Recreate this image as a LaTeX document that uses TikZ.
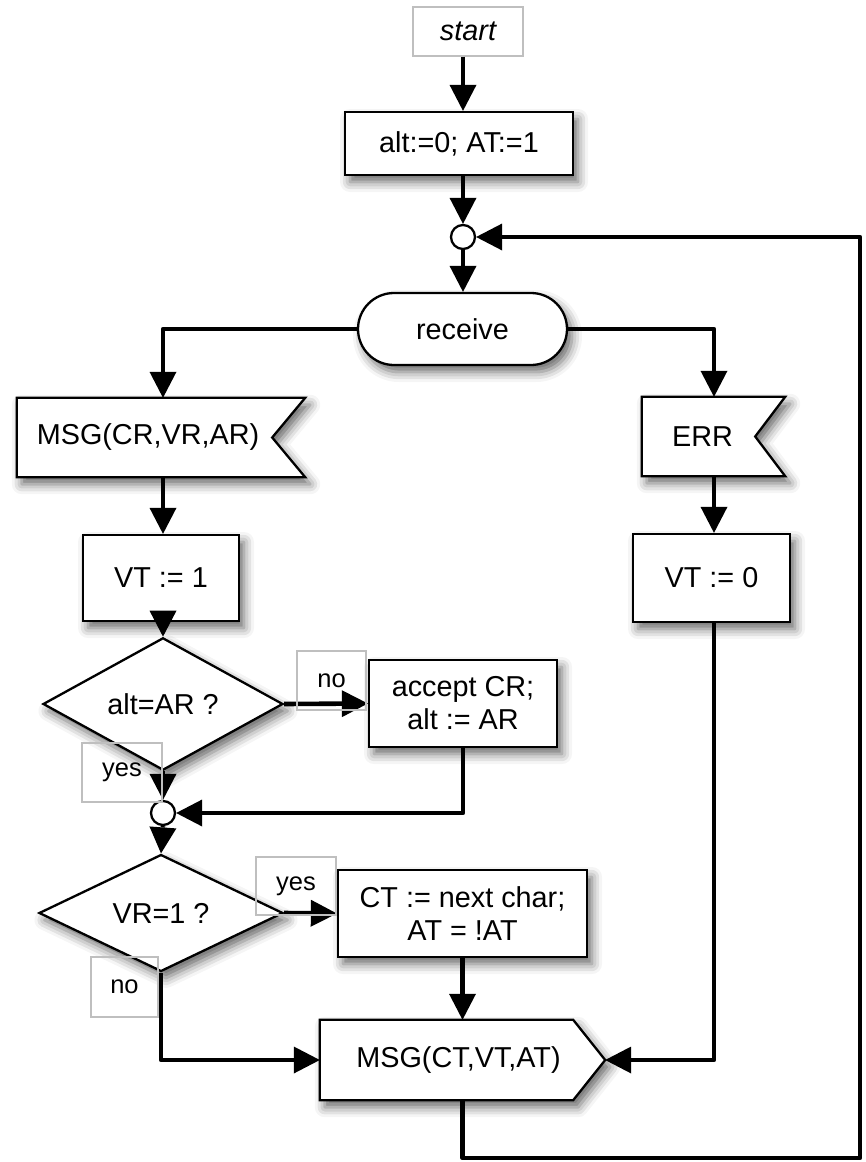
\documentclass[tikz,border=0pt]{standalone}
\usepackage{fontspec}
\setmainfont{Liberation Sans}
\usetikzlibrary{arrows.meta,shapes.geometric,shapes.misc,shadows.blur}

\begin{document}
\begin{tikzpicture}[x=1pt,y=-1pt,
  font=\fontsize{28.8}{33}\selectfont,
  softshadow/.style={blur shadow={shadow xshift=5pt, shadow yshift=-7pt,
      shadow blur radius=10pt, shadow opacity=60}},
  stepbox/.style={draw, line width=2.3pt, fill=white, rectangle, inner sep=0pt,
      align=center, softshadow},
  holder/.style={rectangle, inner sep=0pt},
  outline/.style={draw, line width=2.3pt, fill=white, line join=miter, softshadow},
  decision/.style={draw, line width=2.3pt, fill=white, diamond, inner sep=0pt,
      softshadow},
  junction/.style={draw, line width=2.3pt, fill=white, circle, inner sep=0pt,
      minimum size=24pt},
  tag/.style={draw=black!25, line width=2pt, rectangle, inner sep=0pt,
      font=\fontsize{25.5}{29}\selectfont},
  flow/.style={line width=4.6pt, line join=round,
      -{Triangle[length=26pt,width=27pt,line width=0pt,fill=black]}},
]
\useasboundingbox (0,0) rectangle (865,1162);

% --- nodes ---
\node[tag, font=\fontsize{28.8}{33}\selectfont\itshape, minimum width=110, minimum height=49]
  (start) at (468,31) {start};
\node[stepbox, minimum width=228, minimum height=63] (init) at (459,143.5) {alt:=0; AT:=1};
\node[junction] (j1) at (463,237) {};
\node[rounded rectangle, draw, line width=2.3pt, fill=white, softshadow,
      minimum width=209, minimum height=72, inner sep=0pt] (receive) at (462.5,329) {receive};

% incoming message flags (notch on the right)
\node[holder, minimum width=288, minimum height=79] (msgin) at (161,437.5) {};
\path[outline] (msgin.north west) -- (msgin.north east) -- ([xshift=-33pt]msgin.east)
  -- (msgin.south east) -- (msgin.south west) -- cycle;
\node (msgin-text) at ([xshift=-13pt]msgin.center) {MSG(CR,VR,AR)};

\node[holder, minimum width=143, minimum height=79] (err) at (713.5,436.5) {};
\path[outline] (err.north west) -- (err.north east) -- ([xshift=-30pt]err.east)
  -- (err.south east) -- (err.south west) -- cycle;
\node (err-text) at ([xshift=-11pt]err.center) {ERR};

\node[stepbox, minimum width=156, minimum height=86] (vt1) at (161,578) {VT := 1};
\node[stepbox, minimum width=157, minimum height=88] (vt0) at (711.5,578) {VT := 0};

\node[decision, minimum width=240, minimum height=88] (d1) at (163,704) {alt=AR ?};
\node[stepbox, minimum width=188, minimum height=87] (accept) at (463,703.5)
  {accept CR;\\alt := AR};
\node[junction] (j2) at (163,813) {};

\node[decision, minimum width=244, minimum height=87] (d2) at (161,913) {VR=1 ?};
\node[stepbox, minimum width=249, minimum height=87] (ct) at (462.5,913.5)
  {CT := next char;\\AT = !AT};

% outgoing message (point on the right)
\node[holder, minimum width=285, minimum height=80] (msgout) at (462.5,1060) {};
\path[outline] (msgout.north west) -- ([xshift=-32pt]msgout.north east) -- (msgout.east)
  -- ([xshift=-32pt]msgout.south east) -- (msgout.south west) -- cycle;
\node (msgout-text) at ([xshift=-4pt]msgout.center) {MSG(CT,VT,AT)};

\coordinate (rx) at (714,0);
\coordinate (loopcorner) at (860,1158);

% --- connectors ---
\draw[flow] (start.south -| j1) -- (init.north -| j1);
\draw[flow] (init.south -| j1) -- (j1.north);
\draw[flow] (j1.south) -- (receive.north -| j1);
\draw[flow] (receive.west) -| (msgin.north -| j2);
\draw[flow] (receive.east) -| (err.north -| rx);
\draw[flow] (msgin.south -| j2) -- (vt1.north -| j2);
\draw[flow] (err.south -| rx) -- (vt0.north -| rx);
\draw[flow] (vt1.south -| j2) -- (d1.north);
\draw[flow] (d1.east) -- (accept.west);
\draw[flow] (d1.south) -- (j2.north);
\draw[flow] (accept.south) |- (j2.east);
\draw[flow] (j2.south) -- (d2.north);
\draw[flow] (d2.east) -- (ct.west);
\draw[flow] (d2.south) |- (msgout.west);
\draw[flow] (ct.south -| msgout.north) -- (msgout.north);
\draw[flow] (vt0.south -| rx) |- (msgout.east);
\draw[flow] (msgout.south) |- (loopcorner) |- (j1.east);

% --- branch labels ---
\node[tag, minimum width=69, minimum height=59] (no1) at (331.5,680.5) {no};
\node[tag, minimum width=80, minimum height=59] (yes1) at (122,772.5) {yes};
\node[tag, minimum width=80, minimum height=58] (yes2) at (296,886) {yes};
\node[tag, minimum width=67, minimum height=60] (no2) at (124.5,987) {no};
\end{tikzpicture}
\end{document}
